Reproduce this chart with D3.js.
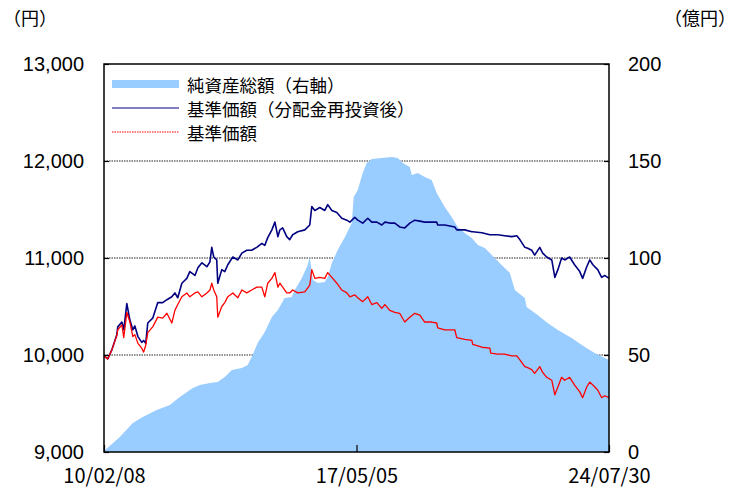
<!DOCTYPE html>
<html>
<head>
<meta charset="utf-8">
<script src="https://cdn.jsdelivr.net/npm/d3@7"></script>
<style>
  body { margin: 0; background: #fff; }
  svg { display: block; }
</style>
</head>
<body>
<div id="chart"></div>
<script>
// 基準価額 (円) and 基準価額(分配金再投資後)
var navDates = [
  "2010-02-08","2010-03-19","2010-04-30","2010-06-22","2010-07-02","2010-08-14","2010-09-03","2010-10-05",
  "2010-11-06","2010-12-07","2010-12-28","2011-01-29","2011-03-10","2011-03-30","2011-04-21","2011-05-12",
  "2011-07-03","2011-08-25","2011-10-16","2011-11-28","2012-01-19","2012-02-20","2012-03-21","2012-05-03",
  "2012-06-24","2012-07-25","2012-09-17","2012-10-18","2012-11-29","2013-01-20","2013-02-21","2013-03-12",
  "2013-04-02","2013-05-03","2013-05-14","2013-06-25","2013-07-26","2013-08-27","2013-10-18","2013-12-10",
  "2014-01-21","2014-03-13","2014-05-04","2014-06-26","2014-08-18","2014-09-18","2014-10-19","2014-12-01",
  "2015-01-02","2015-02-02","2015-02-23","2015-03-24","2015-05-06","2015-06-06","2015-07-07","2015-08-29",
  "2015-11-11","2016-01-02","2016-01-23","2016-02-24","2016-04-16","2016-06-07","2016-07-08","2016-08-20",
  "2016-10-11","2016-12-02","2017-01-24","2017-02-25","2017-04-17","2017-05-18","2017-07-09","2017-08-31",
  "2017-10-12","2017-12-04","2018-01-25","2018-02-26","2018-04-18","2018-06-10","2018-07-31","2018-09-22",
  "2018-11-14","2019-01-05","2019-02-27","2019-04-19","2019-07-01","2019-08-22","2019-09-02","2019-11-15",
  "2020-02-28","2020-03-19","2020-06-11","2020-08-24","2020-09-03","2020-12-07","2021-03-01","2021-03-10",
  "2021-05-22","2021-08-03","2021-10-16","2021-12-08","2022-01-09","2022-03-02","2022-04-01","2022-05-13",
  "2022-06-13","2022-08-05","2022-09-05","2022-10-17","2022-12-09","2023-01-10","2023-02-11","2023-03-22",
  "2023-04-23","2023-06-14","2023-08-05","2023-09-28","2023-10-28","2023-12-10","2024-01-11","2024-02-12",
  "2024-04-03","2024-05-14","2024-06-15","2024-07-30"
];
var navReinvested = [
  9990,9960,10050,10210,10290,10340,10260,10530,
  10360,10260,10300,10190,10130,10150,10120,10330,
  10380,10540,10540,10570,10600,10640,10590,10740,
  10790,10860,10820,10900,10950,10910,10960,11110,
  11010,10980,10740,10880,10860,10930,11010,10980,
  11050,11080,11080,11110,11150,11130,11210,11290,
  11370,11220,11290,11310,11220,11190,11240,11270,
  11290,11340,11530,11490,11520,11490,11550,11490,
  11470,11410,11390,11370,11420,11390,11360,11410,
  11370,11370,11340,11370,11360,11360,11320,11310,
  11360,11390,11380,11370,11370,11370,11340,11340,
  11320,11290,11290,11270,11270,11260,11240,11240,
  11240,11230,11220,11230,11190,11110,11100,11080,
  11030,11110,11050,11010,10980,10800,10880,11000,
  10980,11010,10930,10860,10790,10910,10980,10930,
  10880,10800,10820,10790
];
var nav = [
  9990,9960,10050,10200,10260,10310,10180,10440,
  10340,10190,10210,10120,10070,10030,10100,10230,
  10290,10390,10380,10430,10330,10460,10520,10600,
  10640,10600,10640,10650,10600,10640,10670,10740,
  10670,10600,10390,10500,10540,10600,10640,10590,
  10670,10640,10670,10700,10700,10600,10740,10790,
  10850,10700,10740,10700,10640,10640,10670,10640,
  10650,10720,10880,10790,10800,10790,10850,10800,
  10740,10670,10640,10600,10620,10590,10550,10600,
  10520,10540,10480,10520,10460,10440,10430,10340,
  10390,10430,10410,10340,10340,10330,10280,10260,
  10260,10180,10160,10150,10110,10080,10070,10020,
  10010,10010,9990,9990,9950,9880,9870,9850,
  9810,9880,9820,9770,9740,9590,9670,9770,
  9740,9770,9690,9620,9560,9670,9720,9690,
  9640,9560,9580,9560
];

// 純資産総額 (億円)
var assetDates = [
  "2010-02-08","2010-07-23","2010-12-07","2011-03-20","2011-08-14","2011-12-29","2012-04-11","2012-08-26",
  "2012-11-08","2013-02-21","2013-05-14","2013-07-26","2013-10-08","2014-01-21","2014-03-23","2014-05-14",
  "2014-07-05","2014-09-18","2014-12-01","2015-02-02","2015-04-14","2015-06-26","2015-07-29","2015-10-11",
  "2015-12-11","2016-01-02","2016-02-03","2016-03-26","2016-06-07","2016-07-08","2016-08-20","2016-10-20",
  "2017-01-04","2017-03-17","2017-04-06","2017-05-18","2017-07-09","2017-08-20","2017-10-12","2018-01-25",
  "2018-05-08","2018-07-11","2018-09-01","2018-11-14","2018-12-05","2019-02-06","2019-04-19","2019-07-01",
  "2019-08-22","2019-11-15","2020-01-26","2020-03-29","2020-06-11","2020-08-24","2020-10-26","2021-01-08",
  "2021-04-20","2021-07-02","2021-09-26","2021-11-17","2022-03-02","2022-03-20","2022-07-14","2022-10-26",
  "2023-02-11","2023-07-05","2023-11-20","2024-03-02","2024-06-15","2024-07-30"
];
var assets = [
  0.5,7.7,15.0,18.0,21.7,24.2,28.4,33.0,
  34.5,35.6,36.1,38.7,42.3,43.3,44.8,50.0,
  56.2,61.9,69.6,73.2,79.4,79.9,83.5,89.7,
  96.4,100.5,88.7,87.1,87.6,90.2,97.4,104.1,
  110.8,118.0,131.4,135.1,143.8,149.0,151.0,151.6,
  152.1,151.6,149.0,146.9,142.8,143.8,141.8,140.2,
  133.5,126.3,121.1,116.0,112.9,110.3,106.7,105.2,
  100.0,96.4,92.3,83.5,79.4,74.7,70.6,66.5,
  62.9,58.8,54.1,51.0,48.5,47.4
];

var leftTicks = [9000, 10000, 11000, 12000, 13000];
var rightTicks = [0, 50, 100, 150, 200];
var xTickLabels = ["2010-02-08", "2017-05-05", "2024-07-30"];
var legendLabels = ["純資産総額（右軸）", "基準価額（分配金再投資後）", "基準価額"];

var width = 736, height = 488;
var margin = {top: 64, right: 127, bottom: 36, left: 104};
var w = width - margin.left - margin.right;
var h = height - margin.top - margin.bottom;

var parse = d3.timeParse("%Y-%m-%d");
var numFont = "'Liberation Sans', Arial, sans-serif";
var jpFont = "'Noto Sans CJK JP', sans-serif";

var svg = d3.select("#chart").append("svg")
  .attr("width", width)
  .attr("height", height);

var g = svg.append("g")
  .attr("transform", "translate(" + margin.left + "," + margin.top + ")");

var x = d3.scaleTime()
  .domain([parse("2010-02-08"), parse("2024-07-30")])
  .range([0, w]);

var yLeft = d3.scaleLinear().domain([9000, 13000]).range([h, 0]);
var yRight = d3.scaleLinear().domain([0, 200]).range([h, 0]);

// grid lines (behind the area)
g.selectAll(".grid")
  .data([10000, 11000, 12000])
  .enter().append("line")
  .attr("x1", 0).attr("x2", w)
  .attr("y1", function(d) { return yLeft(d); })
  .attr("y2", function(d) { return yLeft(d); })
  .attr("stroke", "#222")
  .attr("stroke-width", 1)
  .attr("stroke-dasharray", "1.5,1");

var assetData = assetDates.map(function(d, i) { return {date: parse(d), v: assets[i]}; });

var area = d3.area()
  .x(function(d) { return x(d.date); })
  .y0(h)
  .y1(function(d) { return yRight(d.v); });

g.append("path")
  .datum(assetData)
  .attr("fill", "#99ccff")
  .attr("d", area);

var lineData = navDates.map(function(d, i) {
  return {date: parse(d), re: navReinvested[i], nav: nav[i]};
});

var lineRe = d3.line()
  .x(function(d) { return x(d.date); })
  .y(function(d) { return yLeft(d.re); });

var lineNav = d3.line()
  .x(function(d) { return x(d.date); })
  .y(function(d) { return yLeft(d.nav); });

g.append("path")
  .datum(lineData)
  .attr("fill", "none")
  .attr("stroke", "#000080")
  .attr("stroke-width", 1.6)
  .attr("stroke-linejoin", "round")
  .attr("d", lineRe);

g.append("path")
  .datum(lineData)
  .attr("fill", "none")
  .attr("stroke", "#ff0000")
  .attr("stroke-width", 1.3)
  .attr("stroke-linejoin", "round")
  .attr("d", lineNav);

// axes
var xAxis = d3.axisBottom(x)
  .tickValues(xTickLabels.map(parse))
  .tickFormat(d3.timeFormat("%y/%m/%d"))
  .tickSizeInner(-7)
  .tickSizeOuter(0)
  .tickPadding(17);

var gx = g.append("g")
  .attr("transform", "translate(0," + h + ")")
  .call(xAxis);
gx.selectAll("text")
  .attr("font-family", jpFont)
  .attr("font-size", 20)
  .attr("fill", "#000");

var leftAxis = d3.axisLeft(yLeft)
  .tickValues(leftTicks)
  .tickFormat(d3.format(","))
  .tickSizeInner(-5)
  .tickSizeOuter(0)
  .tickPadding(20);

var gl = g.append("g").call(leftAxis);
gl.selectAll("text")
  .attr("font-family", numFont)
  .attr("font-size", 20)
  .attr("fill", "#000");

var rightAxis = d3.axisRight(yRight)
  .tickValues(rightTicks)
  .tickSizeInner(-5)
  .tickSizeOuter(0)
  .tickPadding(19);

var gr = g.append("g")
  .attr("transform", "translate(" + w + ",0)")
  .call(rightAxis);
gr.selectAll("text")
  .attr("font-family", numFont)
  .attr("font-size", 20)
  .attr("fill", "#000");

svg.selectAll(".domain").remove();
svg.selectAll(".tick line").attr("stroke", "#000").attr("stroke-width", 1.2);

// frame
g.append("rect")
  .attr("x", 0).attr("y", 0)
  .attr("width", w).attr("height", h)
  .attr("fill", "none")
  .attr("stroke", "#000")
  .attr("stroke-width", 1.5);

// unit labels
svg.append("text")
  .attr("x", 3).attr("y", 20)
  .attr("font-family", jpFont)
  .attr("font-size", 18)
  .attr("dominant-baseline", "middle")
  .text("（円）");

svg.append("text")
  .attr("x", 664).attr("y", 20)
  .attr("font-family", jpFont)
  .attr("font-size", 18)
  .attr("dominant-baseline", "middle")
  .text("（億円）");

// legend
var legend = svg.append("g").attr("transform", "translate(112,84)");
var rowGap = 24;

legend.append("rect")
  .attr("x", 0).attr("y", -4)
  .attr("width", 67).attr("height", 8)
  .attr("fill", "#99ccff");

legend.append("line")
  .attr("x1", 0).attr("x2", 67)
  .attr("y1", rowGap).attr("y2", rowGap)
  .attr("stroke", "#000080")
  .attr("stroke-width", 1.2);

legend.append("line")
  .attr("x1", 0).attr("x2", 67)
  .attr("y1", rowGap * 2).attr("y2", rowGap * 2)
  .attr("stroke", "#ff0000")
  .attr("stroke-width", 1)
  .attr("stroke-dasharray", "1.5,1");

legend.selectAll(".lab")
  .data(legendLabels)
  .enter().append("text")
  .attr("x", 75)
  .attr("y", function(d, i) { return i * rowGap; })
  .attr("dominant-baseline", "central")
  .attr("font-family", jpFont)
  .attr("font-size", 17.5)
  .attr("fill", "#000")
  .text(function(d) { return d; });
</script>
</body>
</html>
